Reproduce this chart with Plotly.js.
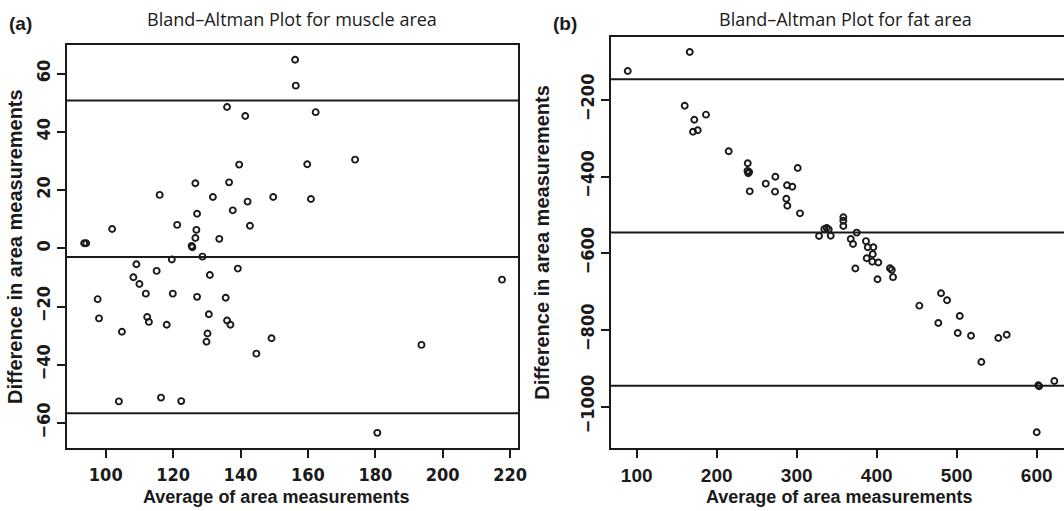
<!DOCTYPE html>
<html>
<head>
<meta charset="utf-8">
<script src="https://cdn.plot.ly/plotly-3.0.1.min.js"></script>
<style>html,body{margin:0;padding:0;background:#fff;}#chart{width:1064px;height:511px;}</style>
</head>
<body>
<div id="chart"></div>
<script>
// ---- Panel (a): muscle area ----
const muscleAvg = [156.2,156.4,136.0,141.4,139.6,126.6,136.6,116.0,131.8,142.1,149.7,127.1,137.7,101.9,121.2,126.9,142.8,126.6,133.7,125.5,125.7,93.6,94.2,119.6,128.7,
  162.3,159.8,174.0,160.9,
  109.1,115.1,108.2,110.0,130.9,139.2,97.6,111.9,119.9,127.1,135.6,98.0,112.3,112.8,118.1,130.6,136.0,137.0,104.8,130.2,129.9,149.2,144.7,103.9,116.4,122.4,
  217.6,193.7,180.6];
const muscleDiff = [64.8,55.9,48.6,45.5,28.8,22.4,22.7,18.4,17.7,16.1,17.7,11.9,13.1,6.7,8.1,6.4,7.8,3.6,3.3,0.9,0.4,1.8,1.8,-3.8,-2.8,
  46.8,28.9,30.5,17.0,
  -5.4,-7.7,-9.9,-12.2,-9.1,-6.9,-17.4,-15.5,-15.5,-16.6,-16.9,-24.0,-23.5,-25.2,-26.2,-22.6,-24.7,-26.2,-28.6,-29.2,-32.0,-30.8,-36.1,-52.5,-51.2,-52.4,
  -10.7,-33.1,-63.3];
const muscleMean = -2.9;
const muscleUpper = 50.8;
const muscleLower = -56.6;
const muscleXTicks = [100,120,140,160,180,200,220];
const muscleYTicks = [-60,-40,-20,0,20,40,60];

// ---- Panel (b): fat area ----
const fatAvg = [88.8,166.3,160.0,172.0,186.6,170.4,176.3,215.0,238.8,238.5,240.5,239.5,241.3,261.3,273.3,272.9,287.9,294.5,301.2,287.0,288.3,304.1,
  327.9,334.5,337.5,340.0,342.5,358.3,358.3,358.3,367.5,370.4,375.0,373.3,386.6,395.8,388.8,395.0,387.5,394.5,402.0,401.0,416.6,418.8,420.4,
  453.3,480.4,487.9,477.0,503.8,501.3,517.9,552.0,562.5,530.8,602.0,603.0,622.0,600.0];
const fatDiff = [-124.3,-74.8,-214.9,-251.4,-238.3,-282.7,-279.1,-333.9,-365.2,-385.0,-388.0,-391.0,-438.3,-418.3,-400.1,-439.2,-422.6,-426.2,-377.4,-457.5,-475.8,-495.7,
  -554.8,-537.0,-534.0,-538.0,-554.0,-506.0,-515.0,-528.7,-562.6,-575.7,-546.0,-639.5,-568.3,-584.3,-584.3,-602.2,-613.0,-621.7,-624.0,-667.8,-639.0,-643.3,-662.2,
  -736.6,-704.3,-722.6,-781.8,-763.5,-807.9,-814.9,-820.9,-812.3,-883.5,-944.0,-947.0,-933.1,-1067.0];
const fatMean = -545.7;
const fatUpper = -146.0;
const fatLower = -945.4;
const fatXTicks = [100,200,300,400,500,600];
const fatYTicks = [-1000,-800,-600,-400,-200];

const titles = ['Bland\u2013Altman Plot for muscle area','Bland\u2013Altman Plot for fat area'];
const panelLabels = ['(a)','(b)'];
const xTitle = 'Average of area measurements';
const yTitle = 'Difference in area measurements';

const ink = '#1a1a1a';
const tickFontNarrow = {family:'"Liberation Sans Narrow","DejaVu Sans Condensed","Arial Narrow",sans-serif', size:18, color:ink, weight:'bold'};
const tickFontWide = {family:'"Liberation Sans",Arial,sans-serif', size:19, color:ink, weight:'bold'};
const yTitleFont = {family:'"Liberation Sans",Arial,sans-serif', size:20, color:ink, weight:'bold'};
const xTitleFont = {family:'"Liberation Sans",Arial,sans-serif', size:18, color:ink, weight:'bold'};
const titleFont = {family:'"Open Sans","Noto Sans",sans-serif', size:18, color:ink};
const labelFont = {family:'"Liberation Sans",Arial,sans-serif', size:19, color:ink, weight:'bold'};

const markerStyle = {symbol:'circle-open', size:6, color:ink, line:{width:1.9, color:ink}};

const traces = [
  {type:'scatter', mode:'markers', x:muscleAvg, y:muscleDiff, xaxis:'x', yaxis:'y', marker:markerStyle, hoverinfo:'x+y', showlegend:false},
  {type:'scatter', mode:'markers', x:fatAvg, y:fatDiff, xaxis:'x2', yaxis:'y2', marker:markerStyle, hoverinfo:'x+y', showlegend:false}
];

function hline(xr, yr, v){
  return {type:'line', xref:xr+' domain', x0:0, x1:1, yref:yr, y0:v, y1:v, line:{color:ink, width:2}, layer:'above'};
}

const axisCommon = {showgrid:false, zeroline:false, showline:true, linecolor:ink, linewidth:2,
  ticks:'outside', ticklen:8, tickwidth:2, tickcolor:ink, tickmode:'array', fixedrange:true};

const layout = {
  width:1064, height:511,
  margin:{l:0, r:0, t:0, b:0},
  paper_bgcolor:'#fff', plot_bgcolor:'#fff',
  showlegend:false,
  xaxis: Object.assign({}, axisCommon, {domain:[0.06297,0.48731], range:[88.5,222.5], tickvals:muscleXTicks, mirror:true,
    tickfont:tickFontNarrow, ticklabelstandoff:1}),
  yaxis: Object.assign({}, axisCommon, {domain:[0.12270,0.91194], range:[-68.6,69.86], tickvals:muscleYTicks, mirror:true,
    tickfont:tickFontNarrow, tickangle:-90, ticklabelstandoff:0, title:{text:yTitle, font:yTitleFont, standoff:5}}),
  xaxis2: Object.assign({}, axisCommon, {anchor:'y2', domain:[0.57397,1.0], range:[67.5,634.1], tickvals:fatXTicks, mirror:true,
    tickfont:tickFontWide, ticklabelstandoff:1}),
  yaxis2: Object.assign({}, axisCommon, {anchor:'x2', domain:[0.12270,0.92818], range:[-1108.7,-34.9], tickvals:fatYTicks, mirror:false,
    tickfont:tickFontNarrow, tickangle:-90, ticklabelstandoff:0, title:{text:yTitle, font:yTitleFont, standoff:22}}),
  shapes:[
    hline('x','y',muscleUpper), hline('x','y',muscleMean), hline('x','y',muscleLower),
    hline('x2','y2',fatUpper), hline('x2','y2',fatMean), hline('x2','y2',fatLower)
  ],
  annotations:[
    {xref:'paper', yref:'paper', x:292/1064, y:1-19/511, text:titles[0], showarrow:false, font:titleFont, xanchor:'center', yanchor:'middle'},
    {xref:'paper', yref:'paper', x:845/1064, y:1-19/511, text:titles[1], showarrow:false, font:titleFont, xanchor:'center', yanchor:'middle'},
    {xref:'paper', yref:'paper', x:7/1064, y:1-23/511, text:panelLabels[0], showarrow:false, font:labelFont, xanchor:'left', yanchor:'middle'},
    {xref:'paper', yref:'paper', x:551/1064, y:1-23/511, text:panelLabels[1], showarrow:false, font:labelFont, xanchor:'left', yanchor:'middle'},
    {xref:'paper', yref:'paper', x:276/1064, y:1-497/511, text:xTitle, showarrow:false, font:xTitleFont, xanchor:'center', yanchor:'middle'},
    {xref:'paper', yref:'paper', x:839/1064, y:1-497/511, text:xTitle, showarrow:false, font:xTitleFont, xanchor:'center', yanchor:'middle'}
  ]
};

Plotly.newPlot('chart', traces, layout, {staticPlot:true, displayModeBar:false});
</script>
</body>
</html>
